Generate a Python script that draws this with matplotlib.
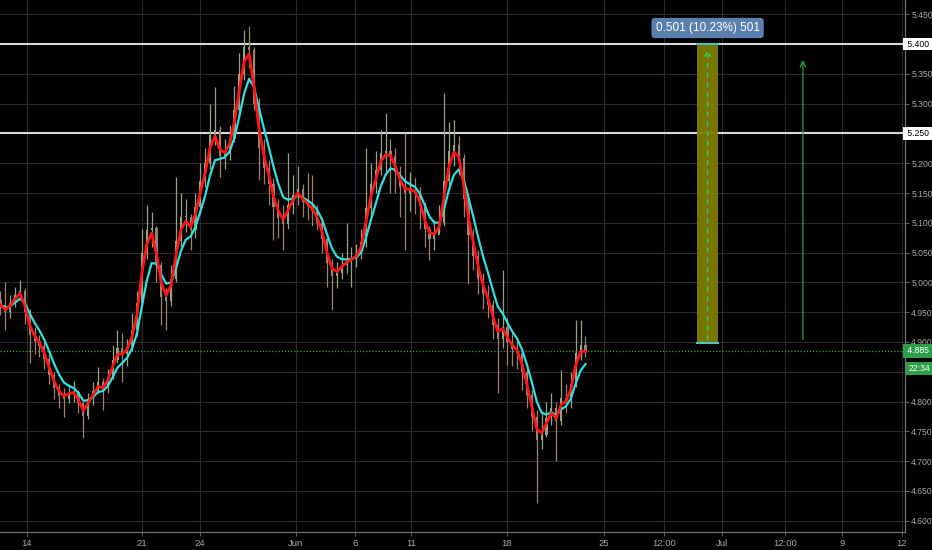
import numpy as np
import pandas as pd
import matplotlib
matplotlib.use('Agg')
import matplotlib.pyplot as plt
import matplotlib.transforms as mtransforms
from matplotlib.patches import Rectangle

plt.rcParams['font.family'] = ['Liberation Sans', 'DejaVu Sans']

# bar closes / highs / lows
closes = [4.962, 4.950, 4.965, 4.978, 4.986, 4.950, 4.912, 4.902, 4.893, 4.872,
          4.845, 4.822, 4.810, 4.805, 4.815, 4.816, 4.797, 4.775, 4.805, 4.818,
          4.832, 4.822, 4.842, 4.870, 4.890, 4.880, 4.892, 4.920, 4.965, 5.050,
          5.088, 5.092, 5.030, 4.975, 4.968, 5.005, 5.070, 5.110, 5.110, 5.088,
          5.126, 5.170, 5.200, 5.248, 5.255, 5.212, 5.215, 5.240, 5.290, 5.350,
          5.395, 5.390, 5.300, 5.225, 5.192, 5.165, 5.126, 5.108, 5.098, 5.130,
          5.146, 5.156, 5.135, 5.128, 5.120, 5.100, 5.072, 5.032, 5.010, 5.016,
          5.030, 5.038, 5.041, 5.047, 5.068, 5.125, 5.165, 5.188, 5.218, 5.220,
          5.212, 5.185, 5.160, 5.150, 5.155, 5.152, 5.128, 5.090, 5.072, 5.080,
          5.100, 5.170, 5.220, 5.230, 5.208, 5.140, 5.080, 5.045, 5.006, 4.980,
          4.962, 4.928, 4.905, 4.925, 4.900, 4.888, 4.881, 4.850, 4.811, 4.774,
          4.735, 4.744, 4.772, 4.789, 4.768, 4.806, 4.803, 4.830, 4.882, 4.895,
          4.885]
highs = [4.985, 5.000, 4.978, 4.992, 5.004, 4.990, 4.955, 4.925, 4.912, 4.900,
         4.880, 4.850, 4.830, 4.822, 4.830, 4.835, 4.820, 4.800, 4.815, 4.832,
         4.858, 4.840, 4.855, 4.895, 4.920, 4.915, 4.905, 4.948, 4.985, 5.090,
         5.130, 5.118, 5.095, 5.035, 4.990, 5.030, 5.177, 5.150, 5.140, 5.115,
         5.150, 5.200, 5.225, 5.300, 5.328, 5.262, 5.240, 5.265, 5.330, 5.385,
         5.424, 5.430, 5.395, 5.310, 5.240, 5.205, 5.175, 5.140, 5.130, 5.217,
         5.180, 5.195, 5.165, 5.183, 5.180, 5.130, 5.110, 5.080, 5.040, 5.035,
         5.050, 5.100, 5.060, 5.065, 5.090, 5.226, 5.200, 5.220, 5.255, 5.284,
         5.240, 5.225, 5.195, 5.250, 5.185, 5.175, 5.160, 5.135, 5.095, 5.105,
         5.130, 5.318, 5.270, 5.273, 5.245, 5.215, 5.150, 5.090, 5.055, 5.015,
         4.995, 4.970, 4.940, 5.021, 4.940, 4.915, 4.905, 4.885, 4.860, 4.820,
         4.785, 4.780, 4.800, 4.814, 4.800, 4.853, 4.830, 4.850, 4.937, 4.937,
         4.910]
lows = [4.945, 4.920, 4.940, 4.958, 4.970, 4.930, 4.865, 4.880, 4.875, 4.855,
        4.830, 4.805, 4.790, 4.774, 4.798, 4.800, 4.780, 4.738, 4.770, 4.795,
        4.815, 4.786, 4.815, 4.838, 4.865, 4.833, 4.860, 4.885, 4.910, 4.960,
        5.040, 5.060, 5.000, 4.928, 4.920, 4.960, 5.000, 5.060, 5.085, 5.054,
        5.075, 5.115, 5.160, 5.190, 5.230, 5.177, 5.190, 5.205, 5.235, 5.280,
        5.340, 5.360, 5.290, 5.172, 5.165, 5.130, 5.071, 5.075, 5.054, 5.090,
        5.115, 5.130, 5.110, 5.105, 5.095, 5.088, 5.050, 4.992, 4.953, 4.990,
        5.005, 5.015, 4.992, 5.025, 5.040, 5.060, 5.110, 5.150, 5.180, 5.185,
        5.150, 5.150, 5.110, 5.054, 5.120, 5.115, 5.090, 5.060, 5.038, 5.055,
        5.083, 5.095, 5.160, 5.195, 5.180, 5.110, 4.998, 5.020, 4.980, 4.955,
        4.940, 4.905, 4.814, 4.890, 4.862, 4.860, 4.855, 4.820, 4.790, 4.750,
        4.630, 4.720, 4.740, 4.760, 4.700, 4.760, 4.780, 4.790, 4.825, 4.870,
        4.875]
first_open = 4.970

tick_pos = [5.44, 29.03, 40.93, 60.62, 72.72, 84.21, 103.9, 123.8, 136.1, 148.0, 160.9, 172.6, 184.9]
tick_lbl = ['14', '21', '24', 'Jun', '6', '11', '18', '25', '12:00', 'Jul', '12:00', '9', '12']

level_lines = [5.400, 5.250]
last_price = 4.885
countdown = '22:34'
measure_lo, measure_hi = 4.899, 5.400
measure_x0, measure_x1 = 142.9, 147.2
arrow2_x, arrow2_top = 164.6, 5.378

df = pd.DataFrame({'close': closes, 'high': highs, 'low': lows})
df['open'] = df['close'].shift(1).fillna(first_open)
df['ema_fast'] = df['close'].ewm(span=2, adjust=False).mean()
df['ema_slow'] = df['close'].ewm(span=5, adjust=False).mean()
x = np.arange(len(df))

bg = '#000000'
grid_c = '#2a2a2a'
txt_c = '#a8a8a8'

fig = plt.figure(figsize=(9.32, 5.5), dpi=100, facecolor=bg)
ax = fig.add_axes([0, 0.0327, 905 / 932, 1 - 0.0327])
ax.set_facecolor(bg)

ax.set_xlim(-0.1, 185.54)
ax.set_ylim(4.581, 5.474)

up = df['close'] >= df['open']
col = np.where(up, '#95a283', '#a08070')
ax.vlines(x, df['low'], df['high'], colors=col, linewidth=0.9, zorder=3)
body_lo = np.minimum(df['open'], df['close'])
body_h = np.maximum((df['close'] - df['open']).abs(), 0.002)
ax.bar(x, body_h, bottom=body_lo, width=0.45, color=col, linewidth=0, zorder=3)

ax.plot(x, df['ema_slow'], color='#2fe0e0', linewidth=1.6, zorder=4)
ax.plot(x, df['ema_fast'], color='#ff1414', linewidth=2.0, zorder=5)

# horizontal levels
for lv in level_lines:
    ax.axhline(lv, color='#d8d8d8', linewidth=1.5, zorder=2)
ax.axhline(last_price, color='#2eaa55', linewidth=0.9, linestyle=(0, (1, 1.5)), zorder=2)

# measurement box
ax.add_patch(Rectangle((measure_x0, measure_lo), measure_x1 - measure_x0, measure_hi - measure_lo,
                       facecolor='#7d7d00', edgecolor='none', alpha=0.95, zorder=6))
ax.plot([measure_x0, measure_x1], [measure_hi, measure_hi], color='#4fc3c3', linewidth=1.5, zorder=7)
ax.plot([measure_x0, measure_x1], [measure_lo, measure_lo], color='#4fc3c3', linewidth=1.5, zorder=7)
mx = (measure_x0 + measure_x1) / 2
ax.annotate('', xy=(mx, measure_hi - 0.004), xytext=(mx, measure_lo),
            arrowprops=dict(arrowstyle='->', color='#33cc66', lw=1, linestyle=(0, (3, 4))), zorder=8)
diff = measure_hi - measure_lo
label = '{:.3f} ({:.2f}%) {:d}'.format(diff, diff / measure_lo * 100, int(round(diff * 1000)))
ax.text(mx, measure_hi + 0.027, label, ha='center', va='center', color='white', fontsize=8.5, zorder=9,
        bbox=dict(boxstyle='round,pad=0.35,rounding_size=0.3', facecolor='#5b7fae', edgecolor='none'))

ax.annotate('', xy=(arrow2_x, arrow2_top), xytext=(arrow2_x, measure_lo),
            arrowprops=dict(arrowstyle='->', color='#22aa33', lw=0.9), zorder=8)


# axes styling -- tick labels under the level tags are left empty
def price_fmt(v, p):
    if any(abs(v - lv) < 1e-6 for lv in level_lines):
        return ''
    return '{:.3f}'.format(v)


ax.set_yticks(np.round(np.arange(4.60, 5.451, 0.05), 3))
ax.yaxis.set_major_formatter(plt.FuncFormatter(price_fmt))
ax.yaxis.tick_right()
ax.set_xticks(tick_pos)
ax.set_xticklabels(tick_lbl)
ax.tick_params(axis='both', colors='#707070', labelcolor=txt_c, length=3, width=0.6)
ax.tick_params(axis='y', pad=1.5, labelsize=6.2)
ax.tick_params(axis='x', pad=2, labelsize=6.8)
ax.grid(True, color=grid_c, linewidth=0.8)
ax.set_axisbelow(True)
for s in ['left', 'top']:
    ax.spines[s].set_visible(False)
for s in ['right', 'bottom']:
    ax.spines[s].set_color('#707070')
    ax.spines[s].set_linewidth(0.9)

# price tags on the right axis
tr = mtransforms.blended_transform_factory(ax.transAxes, ax.transData)
for lv in level_lines:
    ax.text(1.0, lv, ' {:.3f} '.format(lv), transform=tr, ha='left', va='center', color='black',
            fontsize=6.2, clip_on=False, zorder=10,
            bbox=dict(boxstyle='square,pad=0.2', facecolor='white', edgecolor='none'))
ax.text(1.0, last_price, ' {:.3f} '.format(last_price), transform=tr, ha='left', va='center', color='white',
        fontsize=6.2, clip_on=False, zorder=10,
        bbox=dict(boxstyle='square,pad=0.25', facecolor='#2e9e4a', edgecolor='none'))
ax.text(1.004, last_price - 0.029, countdown, transform=tr, ha='left', va='center', color='white',
        fontsize=6.2, clip_on=False, zorder=10,
        bbox=dict(boxstyle='square,pad=0.25', facecolor='#2e9e4a', edgecolor='none'))

fig.savefig('out.png', dpi=100, facecolor=bg)
